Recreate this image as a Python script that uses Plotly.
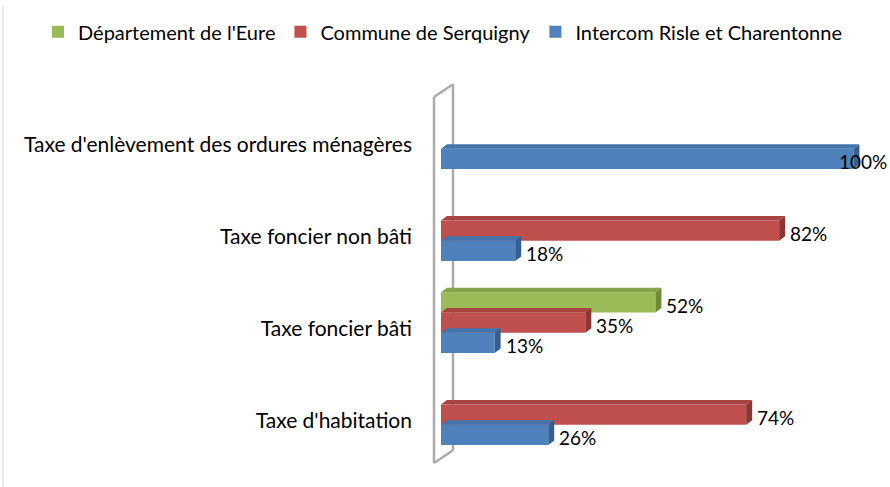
import plotly.graph_objects as go

# ---- data ----
categories = ["Taxe d'habitation", "Taxe foncier bâti", "Taxe foncier non bâti",
              "Taxe d'enlèvement des ordures ménagères"]
series_names = ["Département de l'Eure", "Commune de Serquigny", "Intercom Risle et Charentonne"]
dept_values = [None, 52, None, None]
commune_values = [74, 35, 82, None]
intercom_values = [26, 13, 18, 100]

# ---- styling ----
face_colors = ["#9BBB59", "#C0504D", "#4F81BD"]
top_colors = ["#86A34B", "#A94442", "#4374AE"]
end_colors = ["#6F8A3C", "#8C3634", "#365F8F"]
offsets = [0.18, -0.04, -0.26]
bar_w = 0.22

W, H = 890, 487
ML, MR, MT, MB = 441, 16, 95, 20
XR = [0, 105]
YR = [-0.5, 3.5]
PW, PH = W - ML - MR, H - MT - MB
px_per_x = PW / (XR[1] - XR[0])
px_per_y = PH / (YR[1] - YR[0])
dx = 6 / px_per_x      # depth in x units
dy = 4.5 / px_per_y    # depth in y units

font_family = "Lato, 'Open Sans', sans-serif"

fig = go.Figure()
all_values = [dept_values, commune_values, intercom_values]
for name, vals, col, off in zip(series_names, all_values, face_colors, offsets):
    fig.add_trace(go.Bar(
        name=name, y=categories, x=vals, orientation="h",
        marker=dict(color=col, line=dict(width=0)),
        width=bar_w, offset=off, hoverinfo="skip",
    ))

shapes = []
annotations = []
for vals, off, tc, ec in zip(all_values, offsets, top_colors, end_colors):
    for i, v in enumerate(vals):
        if v is None:
            continue
        y0 = i + off
        y1 = y0 + bar_w
        # top face
        shapes.append(dict(type="path", xref="x", yref="y", layer="above",
                           path=f"M 0 {y1} L {v} {y1} L {v+dx} {y1+dy} L {dx} {y1+dy} Z",
                           fillcolor=tc, line=dict(width=0)))
        # end face
        shapes.append(dict(type="path", xref="x", yref="y", layer="above",
                           path=f"M {v} {y0} L {v} {y1} L {v+dx} {y1+dy} L {v+dx} {y0+dy} Z",
                           fillcolor=ec, line=dict(width=0)))
        shift = -16 if v >= 95 else 9
        annotations.append(dict(x=v, y=(y0 + y1) / 2, xref="x", yref="y",
                                text=f"{v}%", showarrow=False, xanchor="left",
                                xshift=shift, yshift=-3,
                                font=dict(size=19, color="#000", family=font_family)))


def pxp(x, y):
    return (x - ML) / PW, 1 - (y - MT) / PH


wall = [((434, 93), (434, 463)), ((453, 80), (453, 450)),
        ((434, 93), (453, 80)), ((434, 463), (453, 450))]
for (a, b) in wall:
    xa, ya = pxp(*a)
    xb, yb = pxp(*b)
    shapes.insert(0, dict(type="line", xref="paper", yref="paper", x0=xa, y0=ya, x1=xb, y1=yb,
                          line=dict(color="#ABABAB", width=2.5), layer="below"))

# chart border (left edge)
shapes.append(dict(type="line", xref="paper", yref="paper",
                   x0=pxp(3, 0)[0], x1=pxp(3, 0)[0], y0=pxp(0, 0)[1], y1=pxp(0, H)[1],
                   line=dict(color="#E4E4E4", width=1.5)))

leg_x, leg_y = pxp(38, 27)

fig.update_layout(
    width=W, height=H,
    margin=dict(l=ML, r=MR, t=MT, b=MB),
    barmode="overlay",
    plot_bgcolor="white", paper_bgcolor="white",
    font=dict(family=font_family, size=21, color="#000"),
    xaxis=dict(range=XR, visible=False, fixedrange=True),
    yaxis=dict(range=YR, type="category", categoryorder="array", categoryarray=categories,
               showgrid=False, zeroline=False, showline=False, ticks="",
               ticklabelstandoff=28, tickfont=dict(size=21, color="#000", family=font_family)),
    legend=dict(orientation="h", x=leg_x, y=leg_y,
                xanchor="left", yanchor="middle", traceorder="normal",
                font=dict(size=20, color="#000", family=font_family), itemwidth=30),
    shapes=shapes, annotations=annotations,
    showlegend=True,
)

fig.write_html("out.html", config={"displayModeBar": False},
               post_script="document.body.style.margin='0';")
